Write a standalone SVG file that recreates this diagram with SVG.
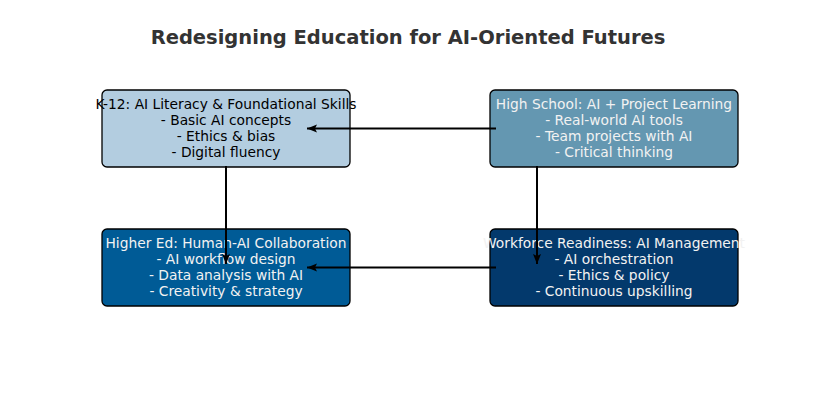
<svg xmlns="http://www.w3.org/2000/svg" width="824" height="420" viewBox="0 0 824 420">
<style>
text{font-family:"DejaVu Sans",sans-serif;font-size:13.8px;text-anchor:middle}
.title{font-size:19.5px;font-weight:bold;fill:#333333}
.box{stroke:#000;stroke-width:1.3}
.dk{fill:#f2f2f2}
.lt{fill:#000}
.conn line{stroke:#000;stroke-width:2;fill:none;marker-end:url(#ah)}
</style>
<defs>
<marker id="ah" viewBox="0 0 10 10" refX="10" refY="5" markerWidth="5" markerHeight="5" orient="auto" markerUnits="strokeWidth">
<path d="M0,1 L10,5 L0,9 L2,5 Z" fill="#000"/>
</marker>
</defs>
<rect width="824" height="420" fill="#fff"/>
<text class="title" x="408" y="44">Redesigning Education for AI-Oriented Futures</text>
<g id="k12">
<rect class="box" x="102" y="90" width="248" height="77" rx="5" fill="#b3cde0"/>
<text class="lt" x="226" y="109">K-12: AI Literacy &amp; Foundational Skills</text>
<text class="lt" x="226" y="125">- Basic AI concepts</text>
<text class="lt" x="226" y="141">- Ethics &amp; bias</text>
<text class="lt" x="226" y="157">- Digital fluency</text>
</g>
<g id="highschool">
<rect class="box" x="490" y="90" width="248" height="77" rx="5" fill="#6497b1"/>
<text class="dk" x="614" y="109">High School: AI + Project Learning</text>
<text class="dk" x="614" y="125">- Real-world AI tools</text>
<text class="dk" x="614" y="141">- Team projects with AI</text>
<text class="dk" x="614" y="157">- Critical thinking</text>
</g>
<g id="highered">
<rect class="box" x="102" y="229" width="248" height="77" rx="5" fill="#005b96"/>
<text class="dk" x="226" y="248">Higher Ed: Human-AI Collaboration</text>
<text class="dk" x="226" y="264">- AI workflow design</text>
<text class="dk" x="226" y="280">- Data analysis with AI</text>
<text class="dk" x="226" y="296">- Creativity &amp; strategy</text>
</g>
<g id="workforce">
<rect class="box" x="490" y="229" width="248" height="77" rx="5" fill="#03396c"/>
<text class="dk" x="614" y="248">Workforce Readiness: AI Management</text>
<text class="dk" x="614" y="264">- AI orchestration</text>
<text class="dk" x="614" y="280">- Ethics &amp; policy</text>
<text class="dk" x="614" y="296">- Continuous upskilling</text>
</g>
<g class="conn" id="connectors">
<line x1="496" y1="128.5" x2="307" y2="128.5"/>
<line x1="226" y1="166" x2="226" y2="264"/>
<line x1="537" y1="166" x2="537" y2="264"/>
<line x1="496" y1="267.5" x2="307" y2="267.5"/>
</g>
</svg>
